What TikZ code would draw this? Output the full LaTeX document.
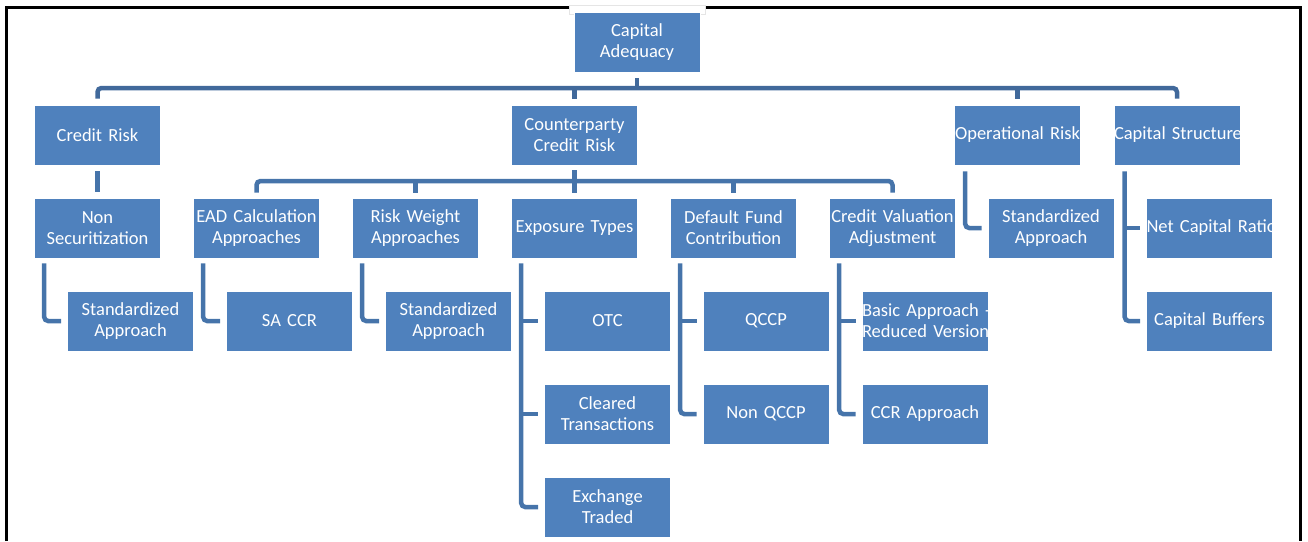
\documentclass[tikz,border=0pt]{standalone}
\usepackage{fontspec}
\setmainfont{Carlito}
\definecolor{boxblue}{HTML}{4F81BD}
\definecolor{linkblue}{HTML}{4674AA}
\definecolor{busblue}{HTML}{41699B}

\begin{document}
\begin{tikzpicture}[x=1pt, y=-1pt,
    every node/.style={font=\fontsize{18.5}{21}\selectfont},
    box/.style={fill=boxblue, draw=white, line width=0.6pt, text=white,
        text width=126pt, minimum height=60pt, inner sep=0pt, align=center},
    link/.style={draw=linkblue, line width=4.5pt, rounded corners=4pt},
    bus/.style={link, draw=busblue}]

    % === frame ===
    \clip (0,0) rectangle (1308,541);
    \draw[line width=3pt] (6.5,541) -- (6.5,7.5) -- (1300.5,7.5) -- (1300.5,541);
    \filldraw[fill=white, draw=gray!20, line width=0.5pt] (569,5) rectangle (705,14);

    % === top ===
    \node[box] (ca) at (637,42) {Capital\\Adequacy};

    % === level 1 ===
    \node[box] (cr)  at (97.5,135)  {Credit Risk};
    \node[box] (ccr) at (574.5,135) {Counterparty\\Credit Risk};
    \node[box] (opr) at (1017.5,135) {\mbox{Operational Risk}};
    \node[box] (cs)  at (1177,135)  {\mbox{Capital Structure}};

    % === level 2 ===
    \node[box] (ns)  at (97.5,228)  {Non\\Securitization};
    \node[box] (ead) at (256.5,228) {\mbox{EAD Calculation}\\Approaches};
    \node[box] (rw)  at (415.5,228) {Risk Weight\\Approaches};
    \node[box] (et)  at (574.5,228) {Exposure Types};
    \node[box] (dfc) at (733.5,228) {Default Fund\\Contribution};
    \node[box] (cva) at (892.5,228) {\mbox{Credit Valuation}\\Adjustment};
    \node[box] (osa) at (1051,228)  {Standardized\\Approach};
    \node[box] (ncr) at (1209.5,228) {\mbox{Net Capital Ratio}};

    % === level 3 and below ===
    \node[box] (sa1)   at (130.5,321) {Standardized\\Approach};
    \node[box] (sacc)  at (289.5,321) {SA CCR};
    \node[box] (sa2)   at (448.5,321) {Standardized\\Approach};
    \node[box] (otc)   at (607.5,321) {OTC};
    \node[box] (qccp)  at (766,321)   {QCCP};
    \node[box] (bas)   at (925,321)   {\mbox{Basic Approach -}\\\mbox{Reduced Version}};
    \node[box] (cb)    at (1209.5,321) {Capital Buffers};
    \node[box] (clr)   at (607.5,414) {Cleared\\Transactions};
    \node[box] (nqccp) at (766,414)   {Non QCCP};
    \node[box] (ccra)  at (925,414)   {CCR Approach};
    \node[box] (ext)   at (607.5,507) {Exchange\\Traded};

    % === top bus ===
    \coordinate (top) at (637,88);
    \draw[bus] ([yshift=6pt]cr.north) |- (top) -| ([yshift=6pt]cs.north);
    \draw[bus] ([yshift=-6pt]ca.south) -- (top);
    \draw[bus] ([yshift=6pt]ccr.north) -- (ccr.north |- top);
    \draw[bus] ([yshift=6pt]opr.north) -- (opr.north |- top);

    % === counterparty bus ===
    \coordinate (mid) at (574.5,181);
    \draw[link] ([yshift=5pt]ead.north) |- (mid) -| ([yshift=5pt]cva.north);
    \draw[link] ([yshift=-5pt]ccr.south) -- ([yshift=5pt]et.north);
    \draw[link] ([yshift=5pt]rw.north) -- (rw.north |- mid);
    \draw[link] ([yshift=5pt]dfc.north) -- (dfc.north |- mid);
    \draw[link] ([yshift=-6pt]cr.south) -- ([yshift=6pt]ns.north);

    % === elbows ===
    \draw[link] ([shift={(10pt,-5pt)}]ns.south west) |- ([xshift=-6pt]sa1.west);
    \draw[link] ([shift={(10pt,-5pt)}]ead.south west) |- ([xshift=-6pt]sacc.west);
    \draw[link] ([shift={(10pt,-5pt)}]rw.south west) |- ([xshift=-6pt]sa2.west);
    \draw[link] ([shift={(10pt,-5pt)}]et.south west) |- ([xshift=-6pt]ext.west);
    \draw[link] ([xshift=10pt]et.south west |- otc.west) -- ([xshift=-6pt]otc.west);
    \draw[link] ([xshift=10pt]et.south west |- clr.west) -- ([xshift=-6pt]clr.west);
    \draw[link] ([shift={(10pt,-5pt)}]dfc.south west) |- ([xshift=-6pt]nqccp.west);
    \draw[link] ([xshift=10pt]dfc.south west |- qccp.west) -- ([xshift=-6pt]qccp.west);
    \draw[link] ([shift={(10pt,-5pt)}]cva.south west) |- ([xshift=-6pt]ccra.west);
    \draw[link] ([xshift=10pt]cva.south west |- bas.west) -- ([xshift=-6pt]bas.west);
    \draw[link] ([shift={(11pt,-6pt)}]opr.south west) |- ([xshift=-6pt]osa.west);
    \draw[link] ([shift={(11pt,-6pt)}]cs.south west) |- ([xshift=-6pt]cb.west);
    \draw[link] ([xshift=11pt]cs.south west |- ncr.west) -- ([xshift=-6pt]ncr.west);
\end{tikzpicture}
\end{document}
